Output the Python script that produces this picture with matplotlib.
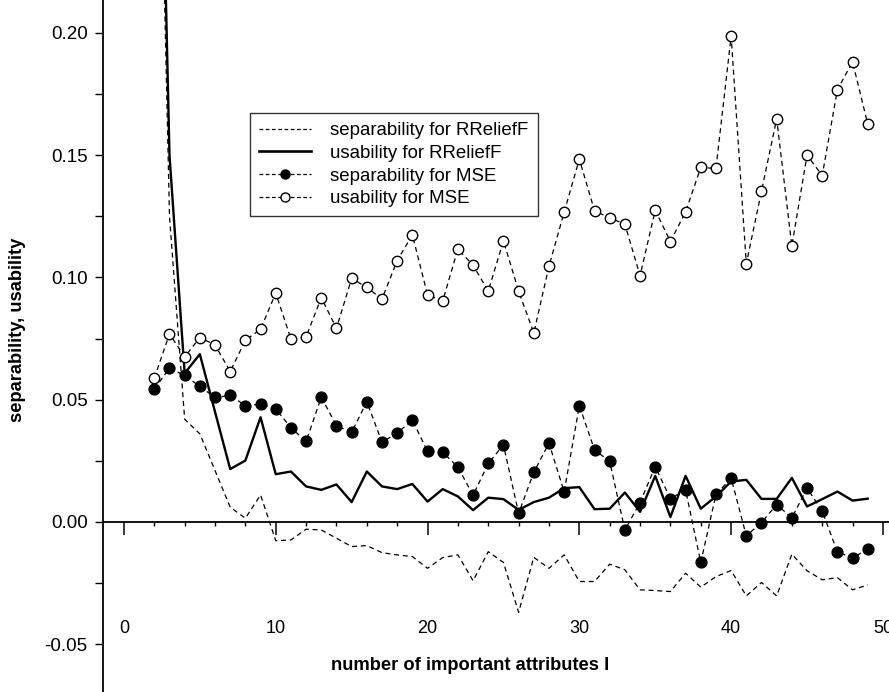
import numpy as np
import matplotlib.pyplot as plt
from matplotlib.ticker import MultipleLocator, FixedLocator
from matplotlib.lines import Line2D

plt.rcParams['font.family'] = ['Liberation Sans', 'DejaVu Sans']

# number of important attributes
n_attr = list(range(2, 50))

sep_relieff = [0.400, 0.125, 0.042, 0.036, 0.021, 0.006, 0.0015, 0.011, -0.0077, -0.0074,
               -0.0030, -0.0033, -0.0067, -0.0101, -0.0097, -0.0126, -0.0135, -0.0142, -0.0190, -0.0146,
               -0.0135, -0.0241, -0.0122, -0.0166, -0.0370, -0.0145, -0.0190, -0.0135, -0.0244, -0.0244,
               -0.0173, -0.0196, -0.0278, -0.0281, -0.0285, -0.0210, -0.0267, -0.0224, -0.0199, -0.0303,
               -0.0248, -0.0303, -0.0132, -0.0200, -0.0237, -0.0228, -0.0278, -0.0258]

use_relieff = [0.420, 0.150, 0.0608, 0.0686, 0.045, 0.0216, 0.0251, 0.0428, 0.0195, 0.0206,
               0.0145, 0.0131, 0.0153, 0.0081, 0.0206, 0.0145, 0.0134, 0.0155, 0.0083, 0.0134,
               0.0104, 0.0048, 0.0099, 0.0093, 0.0049, 0.0081, 0.0099, 0.0138, 0.0142, 0.0052,
               0.0054, 0.0120, 0.0041, 0.0188, 0.0020, 0.0188, 0.0054, 0.0104, 0.0165, 0.0172,
               0.0094, 0.0094, 0.0180, 0.0063, 0.0093, 0.0124, 0.0087, 0.0095]

sep_mse = [0.0543, 0.0629, 0.0599, 0.0554, 0.0509, 0.0517, 0.0476, 0.0481, 0.0462, 0.0385,
           0.0329, 0.0510, 0.0394, 0.0366, 0.0492, 0.0326, 0.0363, 0.0417, 0.0288, 0.0285,
           0.0224, 0.0109, 0.0239, 0.0315, 0.0035, 0.0203, 0.0322, 0.0123, 0.0475, 0.0295,
           0.0247, -0.0033, 0.0079, 0.0226, 0.0095, 0.0131, -0.0166, 0.0112, 0.0179, -0.0057,
           -0.0003, 0.0071, 0.0016, 0.0138, 0.0044, -0.0123, -0.0147, -0.0112]

use_mse = [0.0588, 0.0769, 0.0675, 0.0754, 0.0724, 0.0615, 0.0743, 0.0788, 0.0936, 0.0748,
           0.0757, 0.0917, 0.0792, 0.0996, 0.0959, 0.0912, 0.1069, 0.1174, 0.0929, 0.0904,
           0.1116, 0.1050, 0.0944, 0.1150, 0.0944, 0.0773, 0.1046, 0.1267, 0.1484, 0.1273,
           0.1243, 0.1218, 0.1007, 0.1275, 0.1147, 0.1268, 0.1450, 0.1446, 0.1987, 0.1056,
           0.1353, 0.1649, 0.1129, 0.1500, 0.1417, 0.1768, 0.1882, 0.1627]

labels = ['separability for RReliefF', 'usability for RReliefF',
          'separability for MSE', 'usability for MSE']

fig = plt.figure(figsize=(8.89, 6.92), dpi=100)
ax = fig.add_axes([103 / 889, 0, 786 / 889, 1])

dash = (0, (4, 3))
ax.plot(n_attr, sep_relieff, color='black', lw=0.9, linestyle=dash)
ax.plot(n_attr, use_relieff, color='black', lw=1.7)
ax.plot(n_attr, sep_mse, color='black', lw=0.9, linestyle=dash,
        marker='o', ms=7.8, mfc='black', mec='black')
ax.plot(n_attr, use_mse, color='black', lw=0.9, linestyle=dash,
        marker='o', ms=7.5, mfc='white', mec='black', mew=1.0)

ax.set_xlim(-1.38, 50.4)
ax.set_ylim(-0.0696, 0.2135)

for s in ['top', 'right']:
    ax.spines[s].set_visible(False)
ax.spines['bottom'].set_position(('data', 0))
ax.spines['bottom'].set_linewidth(1.3)
ax.spines['left'].set_linewidth(1.3)

ax.xaxis.set_major_locator(FixedLocator([0, 10, 20, 30, 40, 50]))
ax.xaxis.set_minor_locator(MultipleLocator(2))
ax.tick_params(axis='x', which='major', direction='out', length=9, width=1.1,
               pad=62, labelsize=13)
ax.tick_params(axis='x', which='minor', direction='out', length=3, width=1.0)

ax.yaxis.set_major_locator(MultipleLocator(0.05))
ax.yaxis.set_minor_locator(MultipleLocator(0.025))
ax.tick_params(axis='y', which='both', direction='out', length=6, width=1.0)
ax.tick_params(axis='y', which='major', pad=5, labelsize=13.5)
ax.set_yticks([-0.05, 0.0, 0.05, 0.10, 0.15, 0.20])
ax.set_yticklabels(['-0.05', '0.00', '0.05', '0.10', '0.15', '0.20'])

fig.text(470 / 889, 1 - 666 / 692, 'number of important attributes I',
         ha='center', va='center', fontsize=13.2, fontweight='bold')
fig.text(18 / 889, 1 - 330 / 692, 'separability, usability', rotation=90,
         ha='center', va='center', fontsize=13.2, fontweight='bold')

handles = [
    Line2D([], [], color='black', lw=0.9, linestyle=(0, (3, 2))),
    Line2D([], [], color='black', lw=1.9),
    Line2D([], [], color='black', lw=0.9, linestyle=(0, (3, 2)),
           marker='o', ms=6.5, mfc='black', mec='black'),
    Line2D([], [], color='black', lw=0.9, linestyle=(0, (3, 2)),
           marker='o', ms=6.5, mfc='white', mec='black'),
]
leg = fig.legend(handles, labels, loc='upper left',
                 bbox_to_anchor=(250 / 889, 1 - 113 / 692),
                 fontsize=13.4, frameon=True, fancybox=False,
                 handlelength=2.8, labelspacing=0.3, borderpad=0.5,
                 handletextpad=1.0, borderaxespad=0)
leg.get_frame().set_edgecolor('black')
leg.get_frame().set_linewidth(1.0)

fig.savefig('out.png', dpi=100)
